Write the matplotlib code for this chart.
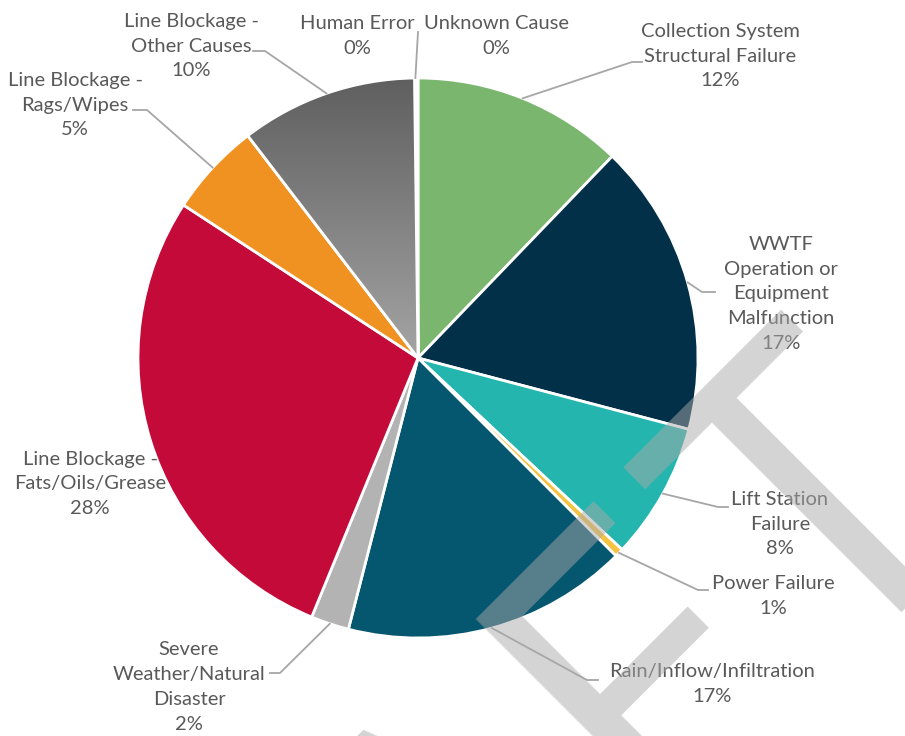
import matplotlib
matplotlib.use('Agg')
import matplotlib.pyplot as plt
import numpy as np
from matplotlib.patches import PathPatch

plt.rcParams['font.family'] = ['Lato', 'DejaVu Sans']

# data
causes = ['Collection System\nStructural Failure',
          'WWTF\nOperation or\nEquipment\nMalfunction',
          'Lift Station\nFailure',
          'Power Failure',
          'Rain/Inflow/Infiltration',
          'Severe\nWeather/Natural\nDisaster',
          'Line Blockage -\nFats/Oils/Grease',
          'Line Blockage -\nRags/Wipes',
          'Line Blockage -\nOther Causes',
          'Human Error',
          'Unknown Cause']
shares = [12.2, 16.9, 7.9, 0.5, 16.5, 2.2, 28.0, 5.4, 10.2, 0.1, 0.1]
colors = ['#7bb66f', '#033049', '#24b6ae', '#f5c242', '#05566f', '#b3b3b3',
          '#c30a39', '#f09222', '#7a7a7a', '#a6a6a6', '#a6a6a6']

# layout (pixel positions measured from the top-left of the picture)
W, H = 905, 736
center = (418, 358)
radius = 280
label_pos = [(720, 56), (781, 294), (780, 524), (773, 596), (712, 684),
             (189, 687), (90, 484), (75, 105), (191, 46), (357, 36), (496, 36)]
leaders = [[(632, 62), (642, 62)], [(702, 292), (715, 292)],
           [(718, 507), (728, 507)], [(698, 590), (708, 590)],
           [(587, 680), (598, 680)], [(280, 673), (270, 673)], None,
           [(147, 110), (133, 110)], [(265, 51), (253, 51)], [(418, 32)], None]


def Y(y):
    return H - y


fig = plt.figure(figsize=(W / 100, H / 100), dpi=100)
ax = fig.add_axes([0, 0, 1, 1])

wedges, _ = ax.pie(shares, colors=colors, startangle=90, counterclock=False,
                   center=(center[0], Y(center[1])), radius=radius,
                   wedgeprops=dict(edgecolor='white', linewidth=2))

# gradient fill on the "Other Causes" slice
w = wedges[8]
grad = np.linspace(0, 1, 256).reshape(-1, 1)
cmap = matplotlib.colors.LinearSegmentedColormap.from_list('g', ['#5f5f5f', '#a4a4a4'])
im = ax.imshow(grad, cmap=cmap, aspect='auto', origin='upper',
               extent=(center[0] - radius, center[0] + 5, Y(center[1]), Y(center[1] - radius)),
               zorder=w.get_zorder() + 0.1)
im.set_clip_path(w)
ax.add_patch(PathPatch(w.get_path(), transform=w.get_transform(), fc='none',
                       ec='white', lw=2, zorder=w.get_zorder() + 0.2))

# labels and leader lines
for i, wdg in enumerate(wedges):
    pct = int(shares[i] + 0.5)
    lx, ly = label_pos[i]
    ax.text(lx, Y(ly), f'{causes[i]}\n{pct}%', ha='center', va='center',
            multialignment='center', fontsize=14.5, color='#595959',
            linespacing=1.57, zorder=6)
    if leaders[i] is not None:
        mid = np.deg2rad((wdg.theta1 + wdg.theta2) / 2)
        pts = [(center[0] + radius * np.cos(mid), center[1] - radius * np.sin(mid))] + leaders[i]
        xs = [p[0] for p in pts]
        ys = [Y(p[1]) for p in pts]
        ax.plot(xs, ys, color='#a6a6a6', lw=1.3, zorder=4)

# watermark
wm = dict(rotation=45, rotation_mode='anchor', va='baseline', fontsize=302,
          family='Open Sans', color='#a9a9a9', alpha=0.5, zorder=7, clip_on=False)
ax.text(800, Y(677), 'DRAF', ha='right', **wm)
ax.text(913, Y(597), 'T', ha='center', **wm)

ax.set_xlim(0, W)
ax.set_ylim(0, H)
ax.set_aspect('equal', adjustable='box')
ax.axis('off')
fig.savefig('out.png', dpi=100)
